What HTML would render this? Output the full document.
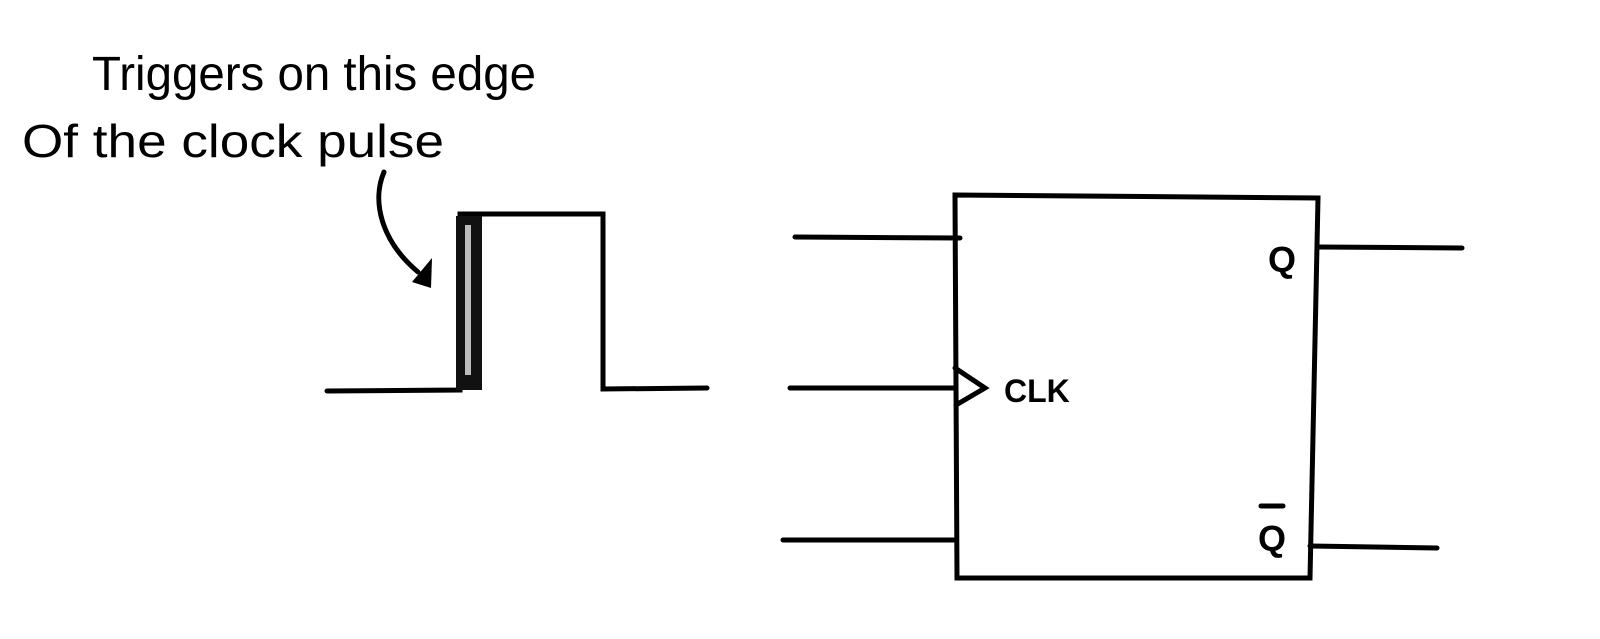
<!DOCTYPE html>
<html><head><meta charset="utf-8"><style>html,body{margin:0;padding:0;background:#fff}svg{display:block}</style></head>
<body>
<svg width="1600" height="639" viewBox="0 0 1600 639" xmlns="http://www.w3.org/2000/svg">
<rect width="1600" height="639" fill="#fff"/>
<g font-family="'Liberation Sans', sans-serif" fill="#000">
<text x="92" y="90" font-size="48" textLength="444" lengthAdjust="spacingAndGlyphs">Triggers on this edge</text>
<text x="22" y="157" font-size="46" textLength="422" lengthAdjust="spacingAndGlyphs">Of the clock pulse</text>
<text x="1004" y="402" font-size="32" font-weight="bold">CLK</text>
<text x="1268" y="272" font-size="36" font-weight="bold">Q</text>
<text x="1258" y="551" font-size="36" font-weight="bold">Q</text>
</g>
<g stroke="#000" stroke-width="5" fill="none" stroke-linecap="round">
<path d="M327 391 L460 390 L460 214 L603 214 L603 389 L707 388"/>
<rect x="456" y="216" width="26" height="174" fill="#111" stroke="none"/>
<rect x="465" y="225" width="6" height="150" fill="#bbb" stroke="none"/>
<path d="M384 172 C372 200 380 240 418 272"/>
<path d="M955 195 L1318 198 L1310 578 L957 578 Z"/>
<path d="M795 237 L960 238"/>
<path d="M790 388 L955 388"/>
<path d="M955 368 L985 388 L956 405" stroke-linejoin="miter"/>
<path d="M783 540 L955 540"/>
<path d="M1318 247 L1462 248"/>
<path d="M1310 546 L1437 548"/>
<path d="M1261 506 L1283 506"/>
</g>
<polygon points="412,282 432,258 431,288" fill="#000"/>
</svg>
</body></html>
